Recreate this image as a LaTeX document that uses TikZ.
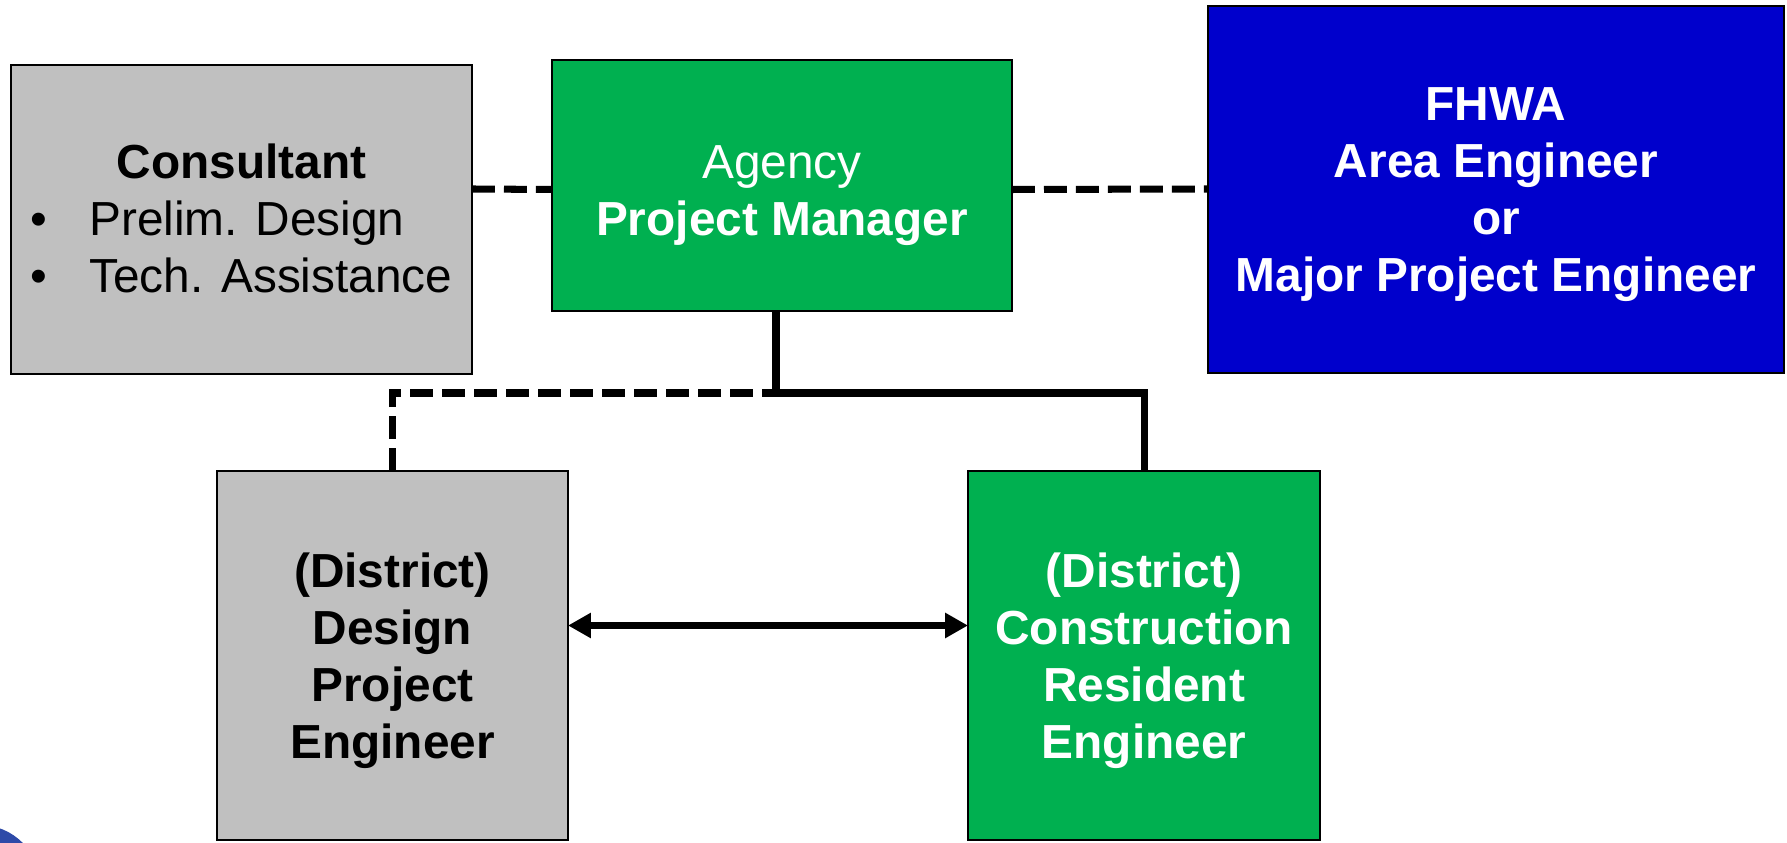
\documentclass[tikz,border=0pt]{standalone}
\usepackage{fontspec}
\setmainfont{Liberation Sans}
\usepackage{tikz}
\usetikzlibrary{arrows.meta}
\definecolor{qqbq5q}{rgb}{0.,0.6902,0.3137}
\definecolor{cqcqcq}{rgb}{0.7529,0.7529,0.7529}
\definecolor{qqqqcc}{rgb}{0.,0.,0.8}
\definecolor{2e4ba8}{rgb}{0.18,0.29,0.66}
\tikzstyle{every node}=[font=\fontsize{13.6}{16.2}\selectfont, inner sep=0pt, outer sep=0pt]
\tikzstyle{box}=[draw=black, line width=0.6pt, align=center, text depth=0pt]
\tikzstyle{link}=[line width=2pt, line join=miter]
\tikzstyle{dashlink}=[link, dash pattern=on 6.5pt off 2.6pt]

\begin{document}
\begin{tikzpicture}[line cap=butt,>={Triangle[length=6.5pt,width=6.8pt]},x=1.0cm,y=1.0cm]
                    \useasboundingbox (0.,0.) rectangle (17.87,8.43);
                    \begin{scope}
                    \clip (0.,0.) rectangle (17.87,8.43);
                    \fill [color=2e4ba8] (-0.2,-0.42) circle (0.6cm);
                    \end{scope}
                    % boxes
                    \node [box, fill=cqcqcq, minimum width=4.61cm, minimum height=3.09cm, text depth=2pt] (consult) at (2.415,6.235) {\begin{tabular}[b]{@{}l@{\hspace{0.42cm}}l@{}}\multicolumn{2}{c}{\textbf{Consultant}}\\ \textbullet & Prelim. Design\\ \textbullet & Tech. Assistance\end{tabular}};
                    \node [box, fill=qqbq5q, text=white, minimum width=4.60cm, minimum height=2.51cm, text height=28.7pt] (agency) at (7.82,6.575) {Agency\\ \textbf{Project Manager}};
                    \node [box, fill=qqqqcc, text=white, minimum width=5.76cm, minimum height=3.67cm, font=\fontsize{13.6}{16.2}\selectfont\bfseries] (fhwa) at (14.96,6.535) {FHWA\\ Area Engineer\\ or\\ Major Project Engineer};
                    \node [box, fill=cqcqcq, minimum width=3.51cm, minimum height=3.69cm, font=\fontsize{13.6}{16.2}\selectfont\bfseries] (design) at (3.925,1.875) {(District)\\ Design\\ Project\\ Engineer};
                    \node [box, fill=qqbq5q, text=white, minimum width=3.52cm, minimum height=3.69cm, font=\fontsize{13.6}{16.2}\selectfont\bfseries] (resident) at (11.44,1.875) {(District)\\ Construction\\ Resident\\ Engineer};
                    \coordinate (split) at (7.62,4.5);
                    % links
                    \draw [dashlink] (consult.east |- 0,6.54) -- ([yshift=-0.04cm]agency.west);
                    \draw [dashlink] ([yshift=-0.04cm]agency.east) -- (fhwa.west |- 0,6.54);
                    \draw [link] ([xshift=-0.06cm]agency.south) -- ([xshift=-0.06cm]agency.south |- split);
                    \draw [dashlink] (design.north) -- (design.north |- split) -- (split);
                    \draw [link] (split) -- (resident.north |- split) -- (resident.north);
                    \draw [<->,line width=2.2pt] ([yshift=0.3cm]design.east) -- ([yshift=0.3cm]resident.west);
                    \end{tikzpicture}
\end{document}
